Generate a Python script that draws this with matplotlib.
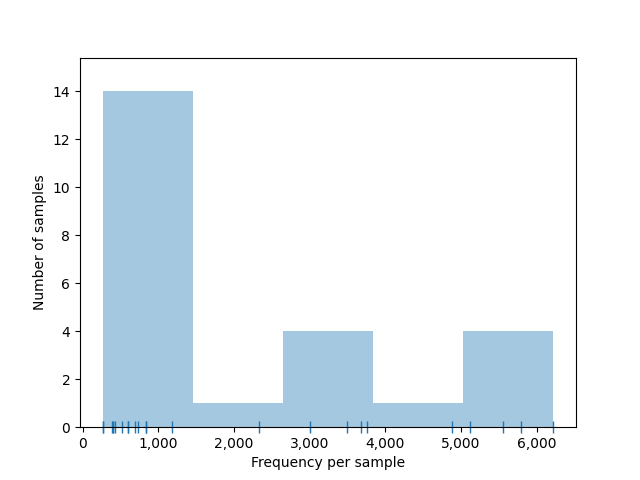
import numpy as np
import matplotlib
matplotlib.use("Agg")
import matplotlib.pyplot as plt
from matplotlib.ticker import FuncFormatter

# frequencies per sample
frecuencias = [262, 262, 381, 400, 400, 421, 519, 603, 603, 686, 735, 837, 837, 1176,
               2328,
               3000, 3494, 3679, 3759,
               4885,
               5123, 5560, 5799, 6223]
n_bins = 5

fig, ax = plt.subplots(figsize=(6.4, 4.8), dpi=100)

ax.hist(frecuencias, bins=n_bins, color="C0", alpha=0.4)

# rug
ax.plot(frecuencias, np.zeros(len(frecuencias)), "|", color="C0",
        markersize=9, markeredgewidth=1,
        transform=ax.get_xaxis_transform(), clip_on=False)

ax.set_ylim(0, 15.4)
ax.xaxis.set_major_formatter(FuncFormatter(lambda v, p: f"{int(v):,}"))
ax.set_xlabel("Frequency per sample")
ax.set_ylabel("Number of samples")

fig.savefig("out.png")
